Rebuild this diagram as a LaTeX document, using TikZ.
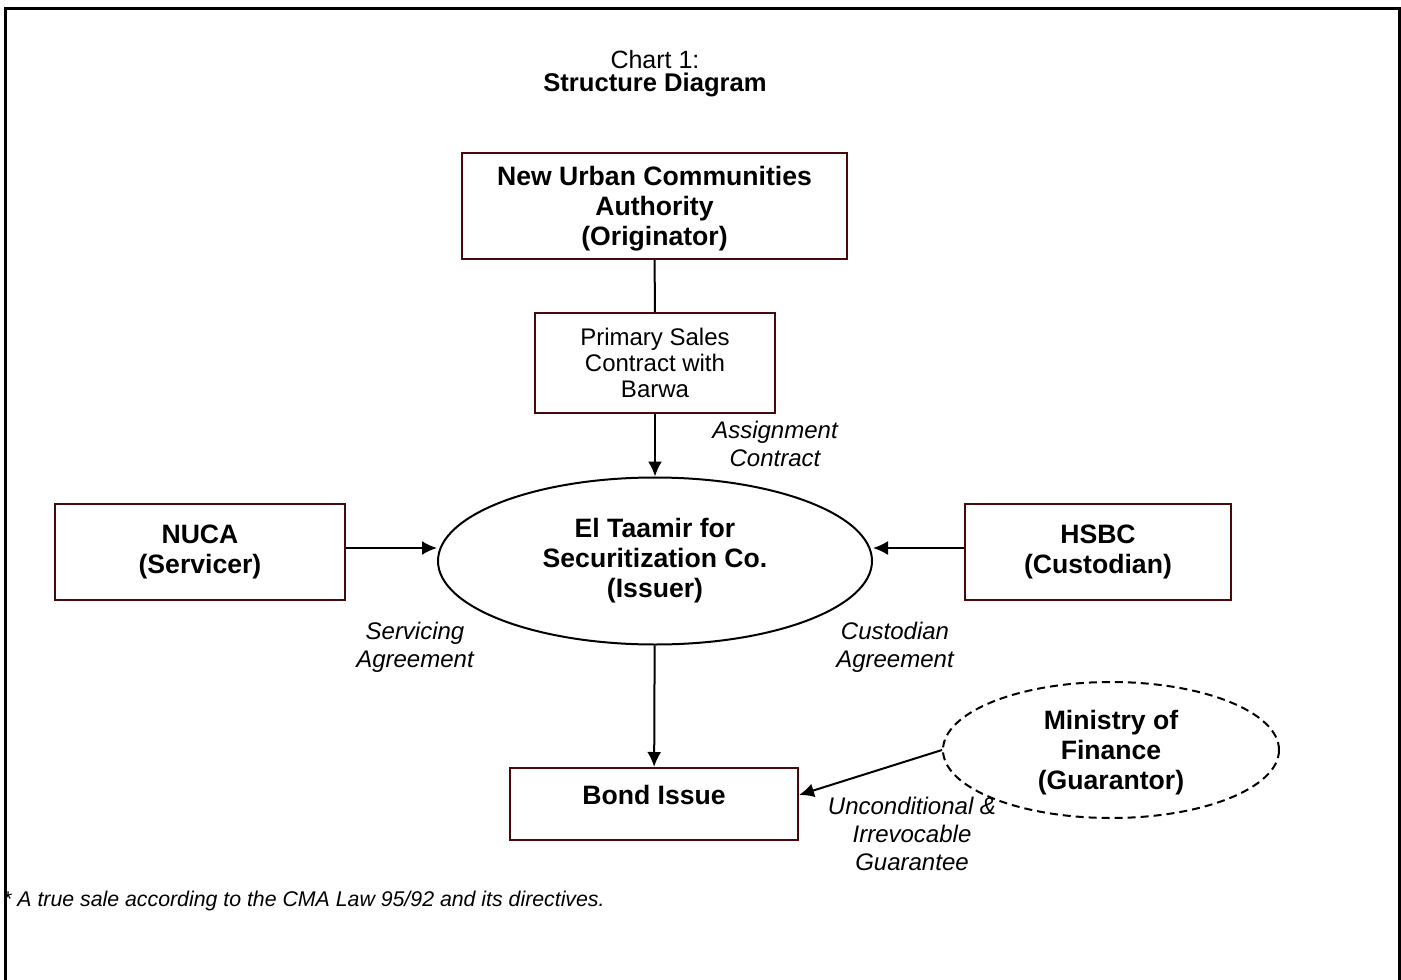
\documentclass[tikz,border=0pt]{standalone}
\usepackage{fontspec}
\setmainfont{Liberation Sans}
\usetikzlibrary{shapes.geometric,arrows.meta}
\definecolor{boxred}{RGB}{70,10,10}
\tikzset{
	partybox/.style={draw=boxred, line width=2pt, align=center, inner sep=0pt, font=\fontsize{26.6}{30}\selectfont\bfseries},
	contractbox/.style={draw=boxred, line width=2pt, align=center, inner sep=0pt, font=\fontsize{24}{26}\selectfont},
	party/.style={draw, ellipse, line width=2pt, align=center, inner sep=0pt, font=\fontsize{26.6}{30}\selectfont\bfseries},
	deal/.style={align=center, inner sep=0pt, font=\fontsize{24}{28}\selectfont\itshape},
	flow/.style={line width=2pt, -{Latex[length=15pt,width=14pt]}}
}
\begin{document}
\begin{tikzpicture}[x=1pt, y=-1pt]
				\useasboundingbox (0,0) rectangle (1401,980);
				% page frame
				\draw[line width=3pt] (5,990) -- (5,8) -- (1399,8) -- (1399,990);
				% heading
				\node[anchor=base, inner sep=0pt, font=\fontsize{25}{28}\selectfont] (chart) at (655,68) {Chart 1:};
				\node[anchor=base, inner sep=0pt, font=\fontsize{25.6}{28}\selectfont\bfseries] (heading) at (655,91) {Structure Diagram};
				% parties
				\node[partybox, text depth=-3pt, minimum width=385pt, minimum height=106pt] (nuca) at (654.5,206) {New Urban Communities\\Authority\\(Originator)};
				\node[contractbox, minimum width=240pt, minimum height=100pt] (barwa) at (655,363) {Primary Sales\\Contract with\\Barwa};
				\node[party, minimum width=434pt, minimum height=167pt] (issuer) at (655,561) {El Taamir for\\Securitization Co.\\(Issuer)};
				\node[partybox, minimum width=290pt, minimum height=96pt] (servicer) at (200,552) {NUCA\\(Servicer)};
				\node[partybox, minimum width=266pt, minimum height=96pt] (custodian) at (1098,552) {HSBC\\(Custodian)};
				\node[partybox, text depth=18pt, minimum width=288pt, minimum height=72pt] (bond) at (654,804) {Bond Issue};
				\node[party, text depth=-2pt, dash pattern=on 8pt off 5pt, minimum width=336pt, minimum height=136pt] (mof) at (1111,750) {Ministry of\\Finance\\(Guarantor)};
				% connectors
				\draw[line width=2pt] (nuca) -- (barwa);
				\draw[flow] (barwa) -- (issuer);
				\draw[flow] ([yshift=4pt]servicer.east) -- ([yshift=4pt]servicer.east -| issuer.west);
				\draw[flow] ([yshift=4pt]custodian.west) -- ([yshift=4pt]custodian.west -| issuer.east);
				\draw[flow] (issuer) -- (bond);
				\draw[flow] (mof.west) -- ([yshift=9pt]bond.east);
				% agreements
				\node[deal] (assign) at (775,444) {Assignment\\Contract};
				\node[deal] (servicing) at (415,647) {Servicing\\Agreement};
				\node[deal] (custody) at (895,647) {Custodian\\Agreement};
				\node[deal] (guarantee) at (912,834) {Unconditional \&\\Irrevocable\\Guarantee};
				% footnote
				\node[anchor=base west, inner sep=0pt, font=\fontsize{21.3}{24}\selectfont\itshape] (note) at (3,906) {* A true sale according to the CMA Law 95/92 and its directives.};
			\end{tikzpicture}
\end{document}
